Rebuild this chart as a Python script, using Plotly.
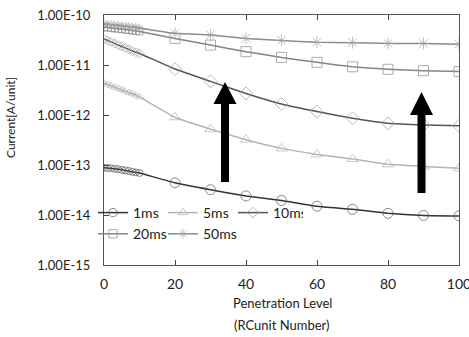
import plotly.graph_objects as go

penetration = [0, 1, 2, 3, 4, 5, 6, 7, 8, 9, 10, 20, 30, 40, 50, 60, 70, 80, 90, 100]

cur_1ms = [8.8e-14, 8.7e-14, 8.6e-14, 8.4e-14, 8.2e-14, 8.0e-14, 7.8e-14, 7.6e-14, 7.3e-14, 7.1e-14, 6.9e-14,
           4.4e-14, 3.2e-14, 2.4e-14, 1.95e-14, 1.5e-14, 1.3e-14, 1.08e-14, 9.8e-15, 9.6e-15]
cur_5ms = [4.4e-12, 4.1e-12, 3.9e-12, 3.6e-12, 3.4e-12, 3.2e-12, 3.0e-12, 2.8e-12, 2.7e-12, 2.5e-12, 2.3e-12,
           9.0e-13, 5.2e-13, 3.2e-13, 2.15e-13, 1.63e-13, 1.32e-13, 1.03e-13, 9.3e-14, 8.6e-14]
cur_10ms = [3.3e-11, 3.1e-11, 2.9e-11, 2.7e-11, 2.5e-11, 2.35e-11, 2.2e-11, 2.05e-11, 1.9e-11, 1.8e-11, 1.7e-11,
            8.3e-12, 4.7e-12, 2.7e-12, 1.66e-12, 1.17e-12, 8.6e-13, 6.8e-13, 6.3e-13, 6.1e-13]
cur_20ms = [5.7e-11, 5.6e-11, 5.5e-11, 5.4e-11, 5.3e-11, 5.2e-11, 5.1e-11, 5.0e-11, 4.9e-11, 4.8e-11, 4.7e-11,
            3.4e-11, 2.5e-11, 1.85e-11, 1.42e-11, 1.13e-11, 9.2e-12, 8.2e-12, 7.7e-12, 7.4e-12]
cur_50ms = [6.6e-11, 6.5e-11, 6.4e-11, 6.3e-11, 6.2e-11, 6.1e-11, 6.0e-11, 5.9e-11, 5.8e-11, 5.7e-11, 5.5e-11,
            4.3e-11, 4.0e-11, 3.4e-11, 3.1e-11, 2.85e-11, 2.8e-11, 2.7e-11, 2.7e-11, 2.6e-11]

series_names = ["1ms", "5ms", "10ms", "20ms", "50ms"]
y_tick_vals = [1e-15, 1e-14, 1e-13, 1e-12, 1e-11, 1e-10]
y_tick_text = ["1.00E-15", "1.00E-14", "1.00E-13", "1.00E-12", "1.00E-11", "1.00E-10"]
x_tick_vals = [0, 20, 40, 60, 80, 100]
x_title_lines = ["Penetration Level", "(RCunit Number)"]
y_title = "Current[A/unit]"

FONT = "Lato, 'Open Sans', sans-serif"

styles = [
    dict(symbol="circle-open", line="#333333", marker="#5a5a5a"),
    dict(symbol="triangle-up-open", line="#b4b4b4", marker="#b4b4b4"),
    dict(symbol="diamond-open", line="#555555", marker="#a0a0a0"),
    dict(symbol="square-open", line="#858585", marker="#8c8c8c"),
    dict(symbol="asterisk-open", line="#8c8c8c", marker="#a0a0a0"),
]

fig = go.Figure()
for name, ys, st in zip(series_names, [cur_1ms, cur_5ms, cur_10ms, cur_20ms, cur_50ms], styles):
    sizes = [7 if x <= 10 else 10 for x in penetration]
    fig.add_trace(go.Scatter(
        x=penetration, y=ys, name=name, mode="lines+markers",
        line=dict(color=st["line"], width=1.5, shape="spline", smoothing=0.35),
        marker=dict(symbol=st["symbol"], size=sizes, color=st["marker"],
                    line=dict(color=st["marker"], width=1)),
    ))

L, R, T, B = 104, 10, 15, 72
W, H = 469, 337
PW, PH = W - L - R, H - T - B


def px(xp):
    return (xp - L) / PW


def py(yp):
    return (H - B - yp) / PH


shapes = []
for cx, tip, base, bottom in [(225, 82, 104, 182), (421.5, 92, 115, 193)]:
    shapes.append(dict(type="rect", xref="paper", yref="paper",
                       x0=px(cx - 4), x1=px(cx + 4), y0=py(bottom), y1=py(base - 1),
                       fillcolor="black", line=dict(width=0)))
    shapes.append(dict(type="path", xref="paper", yref="paper",
                       path=f"M {px(cx)} {py(tip)} L {px(cx - 11.5)} {py(base)} L {px(cx + 11.5)} {py(base)} Z",
                       fillcolor="black", line=dict(width=0)))

annotations = [dict(text=y_title, xref="paper", yref="paper",
                    x=px(10), y=py(118), textangle=-90, showarrow=False,
                    xanchor="center", yanchor="middle",
                    font=dict(size=12, family=FONT, color="#222222"))]
for txt, yy in zip(x_title_lines, [303, 325]):
    annotations.append(dict(text=txt, xref="paper", yref="paper", x=px(282), y=py(yy),
                            xanchor="center", yanchor="middle",
                            showarrow=False, font=dict(size=13, family=FONT, color="#222222")))

fig.update_layout(
    width=W, height=H,
    margin=dict(l=L, r=R, t=T, b=B, autoexpand=False),
    paper_bgcolor="white", plot_bgcolor="white",
    font=dict(family=FONT, size=13, color="#222222"),
    showlegend=True,
    legend=dict(orientation="h", x=px(93), y=py(197), xanchor="left", yanchor="top",
                bgcolor="rgba(0,0,0,0)", font=dict(size=14, family=FONT),
                entrywidth=25, entrywidthmode="pixels", itemwidth=30,
                tracegroupgap=0),
    shapes=shapes,
    annotations=annotations,
)

fig.update_xaxes(
    range=[0, 100], tickvals=x_tick_vals, ticks="inside", ticklen=5,
    showline=True, linecolor="#555555", linewidth=1.2, mirror="ticks",
    showgrid=False, zeroline=False, tickfont=dict(size=14), automargin=False,
    ticklabeloverflow="allow", ticklabelstandoff=6,
)
fig.update_yaxes(
    type="log", range=[-15, -10], tickvals=y_tick_vals, ticktext=y_tick_text,
    ticks="inside", ticklen=5, showline=True, linecolor="#555555", linewidth=1.2,
    mirror=True, showgrid=False, zeroline=False, tickfont=dict(size=13),
    automargin=False, ticklabelposition="outside", ticklabelstandoff=10,
)

fig.write_html("out.html", config={"displayModeBar": False},
               post_script="document.body.style.margin='0';")
